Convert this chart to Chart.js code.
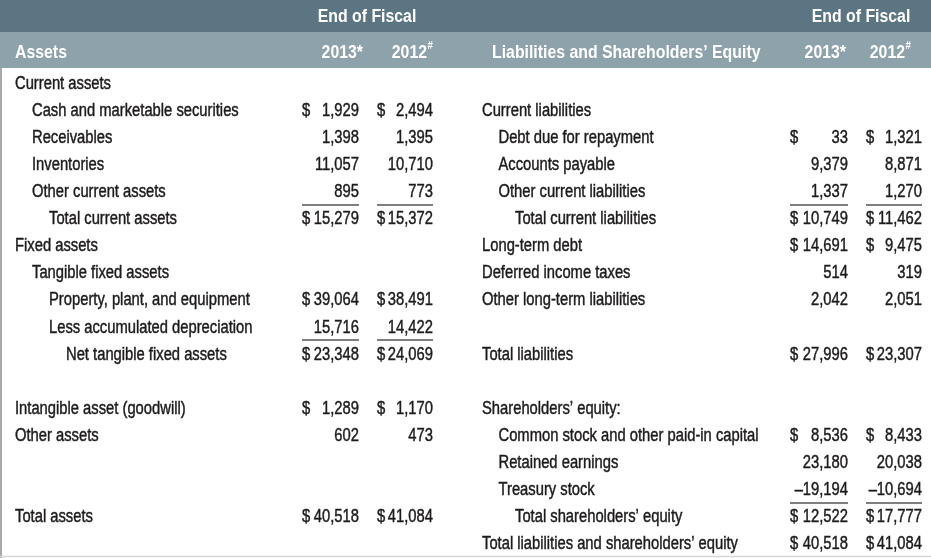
<!DOCTYPE html>
<html><head><meta charset="utf-8">
<script src="https://cdn.jsdelivr.net/npm/chart.js@4/dist/chart.umd.min.js"></script>
<style>html,body{margin:0;padding:0;background:#fff}#wrap{width:931px;height:558px;position:relative}</style>
</head><body><div id="wrap"><canvas id="c"></canvas></div>
<script>
// ---- data ----
const groupHeader = "End of Fiscal";
const yearHeaders = ["2013", "2012"];
const yearMarks = ["*", "#"];
const leftTitle = "Assets";
const rightTitle = "Liabilities and Shareholders\u2019 Equity";

const assetLabels = ["Current assets","Cash and marketable securities","Receivables","Inventories","Other current assets","Total current assets","Fixed assets","Tangible fixed assets","Property, plant, and equipment","Less accumulated depreciation","Net tangible fixed assets","","Intangible asset (goodwill)","Other assets","","","Total assets",""];
const assetIndent = [0,1,1,1,1,2,0,1,2,2,3,0,0,0,0,0,0,0];
const assets2013 = [null,1929,1398,11057,895,15279,null,null,39064,15716,23348,null,1289,602,null,null,40518,null];
const assets2012 = [null,2494,1395,10710,773,15372,null,null,38491,14422,24069,null,1170,473,null,null,41084,null];
const assetDollar = [0,1,0,0,0,1,0,0,1,0,1,0,1,0,0,0,1,0];
const assetRules = [4,9];

const liabLabels = ["","Current liabilities","Debt due for repayment","Accounts payable","Other current liabilities","Total current liabilities","Long-term debt","Deferred income taxes","Other long-term liabilities","","Total liabilities","","Shareholders\u2019 equity:","Common stock and other paid-in capital","Retained earnings","Treasury stock","Total shareholders\u2019 equity","Total liabilities and shareholders\u2019 equity"];
const liabIndent = [0,0,1,1,1,2,0,0,0,0,0,0,0,1,1,1,2,0];
const liab2013 = [null,null,33,9379,1337,10749,14691,514,2042,null,27996,null,null,8536,23180,-19194,12522,40518];
const liab2012 = [null,null,1321,8871,1270,11462,9475,319,2051,null,23307,null,null,8433,20038,-10694,17777,41084];
const liabDollar = [0,0,1,0,0,1,1,0,0,0,1,0,0,1,0,0,1,1];
const liabRules = [4,15];

// ---- layout (x in 0..931 units of the x scale) ----
const FONT = "'Liberation Sans', Arial, sans-serif";
const BODY = 18, HEAD = 18;
const SX_BODY = 0.82, SX_HEAD = 0.88;
const TXT = '#1e1b1c';
const BAND1 = '#5b7583', BAND2 = '#8ea2ac';
const L = {labelX: 15, step: 17, cols: [{d: 302, r: 359}, {d: 377, r: 433}], head: [363, 427], group: 367};
const R = {labelX: 482, step: 16.5, cols: [{d: 790, r: 848}, {d: 866, r: 922}], head: [846, 905], group: 861};
const NROWS = assetLabels.length;

function fmt(v){
  const s = Math.abs(v).toLocaleString('en-US');
  return v < 0 ? '\u2013' + s : s;
}
function drawText(ctx, t, x, y, align, sx, stroke){
  ctx.save();
  ctx.translate(x, y);
  ctx.scale(sx, 1);
  ctx.textAlign = align;
  ctx.fillText(t, 0, 0);
  if (stroke) { ctx.lineWidth = stroke; ctx.strokeStyle = ctx.fillStyle; ctx.strokeText(t, 0, 0); }
  ctx.restore();
}

function textSet(labels, indent, side){
  const data = [], text = [];
  labels.forEach((t,i)=>{ if(t){ data.push({x: side.labelX + indent[i]*side.step, y: i}); text.push(t);} });
  return {data, text, align: 'left'};
}
function valueSet(vals, col){
  const data = [], text = [];
  vals.forEach((v,i)=>{ if(v!==null){ data.push({x: col.r, y: i}); text.push(fmt(v)); } });
  return {data, text, align: 'right'};
}
function dollarSet(vals, dollar, col){
  const data = [], text = [];
  vals.forEach((v,i)=>{ if(v!==null && dollar[i]){ data.push({x: col.d, y: i}); text.push('$'); } });
  return {data, text, align: 'left'};
}

const sets = [
  textSet(assetLabels, assetIndent, L),
  textSet(liabLabels, liabIndent, R),
  valueSet(assets2013, L.cols[0]), valueSet(assets2012, L.cols[1]),
  valueSet(liab2013, R.cols[0]), valueSet(liab2012, R.cols[1]),
  dollarSet(assets2013, assetDollar, L.cols[0]), dollarSet(assets2012, assetDollar, L.cols[1]),
  dollarSet(liab2013, liabDollar, R.cols[0]), dollarSet(liab2012, liabDollar, R.cols[1])
];

const tablePlugin = {
  id: 'table',
  beforeDraw(chart){
    const {ctx, chartArea, scales:{x}} = chart;
    ctx.save();
    ctx.fillStyle = '#fff';
    ctx.fillRect(0,0,chart.width,chart.height);
    ctx.fillStyle = BAND1; ctx.fillRect(0,0,chart.width,32);
    ctx.fillStyle = BAND2; ctx.fillRect(0,32,chart.width,chartArea.top-2-32);
    // borders
    ctx.strokeStyle = '#8c8c8c'; ctx.lineWidth = 1.5;
    ctx.beginPath(); ctx.moveTo(1, chartArea.top-2); ctx.lineTo(1, chart.height); ctx.stroke();
    ctx.strokeStyle = '#d6d6d6'; ctx.lineWidth = 1.5;
    ctx.beginPath(); ctx.moveTo(0, chart.height-1.5); ctx.lineTo(chart.width, chart.height-1.5); ctx.stroke();
    // header text
    ctx.fillStyle = '#fff';
    ctx.font = 'bold ' + HEAD + 'px ' + FONT;
    ctx.textBaseline = 'middle';
    const yb1 = 17, yb2 = 53;
    [L,R].forEach(s=>{
      drawText(ctx, groupHeader, x.getPixelForValue(s.group), yb1, 'center', SX_HEAD);
      drawText(ctx, yearHeaders[0] + yearMarks[0], x.getPixelForValue(s.head[0]), yb2, 'right', SX_HEAD);
      drawText(ctx, yearHeaders[1], x.getPixelForValue(s.head[1]), yb2, 'right', SX_HEAD);
      ctx.save();
      ctx.font = 'bold 11px ' + FONT;
      drawText(ctx, yearMarks[1], x.getPixelForValue(s.head[1]) + 0.5, yb2 - 7, 'left', SX_HEAD);
      ctx.restore();
    });
    drawText(ctx, leftTitle, x.getPixelForValue(L.labelX), yb2, 'left', SX_HEAD);
    drawText(ctx, rightTitle, x.getPixelForValue(R.labelX + 10), yb2, 'left', SX_HEAD);
    ctx.restore();
  },
  afterDatasetsDraw(chart){
    const {ctx, scales:{x,y}} = chart;
    ctx.save();
    ctx.fillStyle = TXT;
    ctx.font = BODY + 'px ' + FONT;
    ctx.textBaseline = 'middle';
    chart.data.datasets.forEach((ds,di)=>{
      const meta = chart.getDatasetMeta(di);
      meta.data.forEach((el,i)=>{ drawText(ctx, ds.text[i], el.x, el.y, ds.align, SX_BODY, 0.45); });
    });
    // underline rules
    ctx.strokeStyle = '#555'; ctx.lineWidth = 1.3;
    [[assetRules, L],[liabRules, R]].forEach(([rows, s])=>{
      rows.forEach(r=>{
        const yy = Math.round(y.getPixelForValue(r + 0.5)) - 1;
        s.cols.forEach(c=>{
          ctx.beginPath();
          ctx.moveTo(x.getPixelForValue(c.d), yy);
          ctx.lineTo(x.getPixelForValue(c.r), yy);
          ctx.stroke();
        });
      });
    });
    ctx.restore();
  }
};

new Chart(document.getElementById('c'), {
  type: 'scatter',
  data: { datasets: sets.map(s=>({data: s.data, text: s.text, align: s.align, pointRadius: 0, pointHoverRadius: 0, showLine: false})) },
  options: {
    responsive: true, maintainAspectRatio: false, animation: false,
    layout: {padding: {top: 70, left: 0, right: 0, bottom: 0}},
    plugins: {legend: {display: false}, tooltip: {enabled: false}},
    events: [],
    scales: {
      x: {type: 'linear', min: 0, max: 931, display: false},
      y: {type: 'linear', min: -0.5, max: NROWS - 0.5, reverse: true, display: false}
    }
  },
  plugins: [tablePlugin]
});
</script></body></html>
